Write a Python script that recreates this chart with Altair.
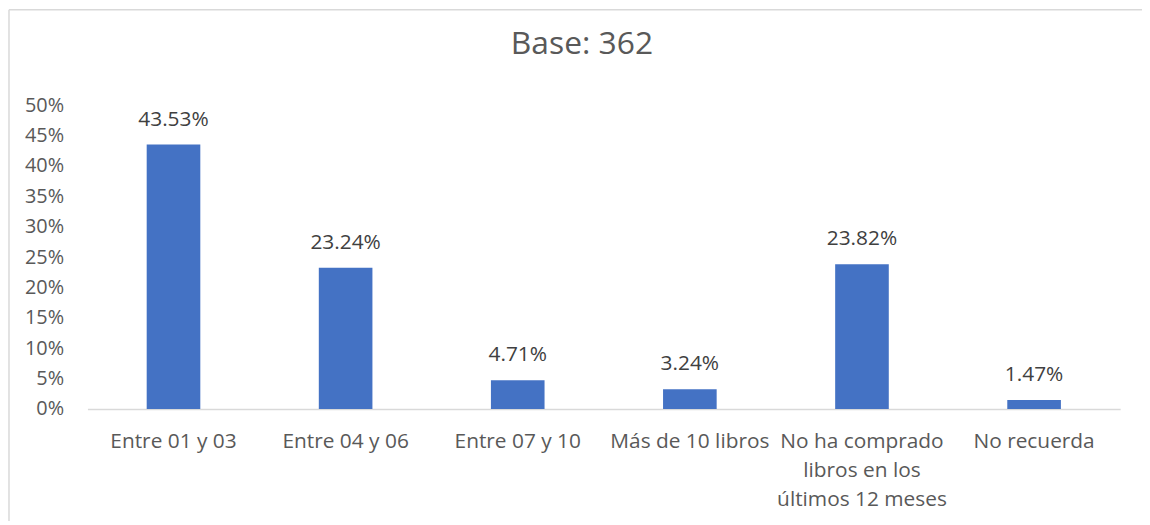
import altair as alt
import pandas as pd

categories = ["Entre 01 y 03", "Entre 04 y 06", "Entre 07 y 10", "Más de 10 libros",
              "No ha comprado|libros en los|últimos 12 meses", "No recuerda"]
values = [0.4353, 0.2324, 0.0471, 0.0324, 0.2382, 0.0147]
y_ticks = [0, 0.05, 0.10, 0.15, 0.20, 0.25, 0.30, 0.35, 0.40, 0.45, 0.50]

df = pd.DataFrame({"cat": categories, "val": values})

FONT = "Open Sans"
W, H = 1040, 306

base = alt.Chart(df)

x_enc = alt.X("cat:N", sort=categories, title=None,
              scale=alt.Scale(paddingInner=0.0, paddingOuter=0.0),
              axis=alt.Axis(labelExpr="split(datum.label, '|')", labelAngle=0,
                            labelFont=FONT, labelFontSize=21, labelColor="#595959",
                            labelLineHeight=29, labelPadding=22, ticks=False,
                            domainColor="#d9d9d9", domainWidth=1.5,
                            labelOverlap=False, labelLimit=300))
y_enc = alt.Y("val:Q", title=None,
              scale=alt.Scale(domain=[0, 0.5], nice=False),
              axis=alt.Axis(format=".0%", values=y_ticks, grid=False, domain=False,
                            ticks=False, labelFont=FONT, labelFontSize=20,
                            labelColor="#595959", labelPadding=24, labelOverlap=False))

bars = base.mark_bar(color="#4472C4", size=54).encode(x=x_enc, y=y_enc)

labels = base.mark_text(font=FONT, fontSize=21, color="#404040",
                        baseline="bottom", dy=-15).encode(
    x=x_enc,
    y=y_enc,
    text=alt.Text("val:Q", format=".2%"))

border_left = alt.Chart(pd.DataFrame({"a": [0]})).mark_rule(color="#d9d9d9", strokeWidth=1.5).encode(
    x=alt.value(-79), y=alt.value(-96), y2=alt.value(H + 200))
border_top = alt.Chart(pd.DataFrame({"a": [0]})).mark_rule(color="#d9d9d9", strokeWidth=1.5).encode(
    x=alt.value(-79), x2=alt.value(W + 22), y=alt.value(-96))

chart = alt.layer(border_left, border_top, bars, labels).properties(
    width=W, height=H,
    title=alt.TitleParams("Base: 362", font=FONT, fontSize=32, fontWeight="normal",
                          color="#595959", offset=-52, dx=-22, anchor="middle"),
    autosize=alt.AutoSizeParams(type="none"),
    padding={"left": 80, "top": 96, "right": 22, "bottom": 111},
).configure_view(stroke=None)

chart.save("out.html", embed_options={"renderer": "svg", "actions": False})
